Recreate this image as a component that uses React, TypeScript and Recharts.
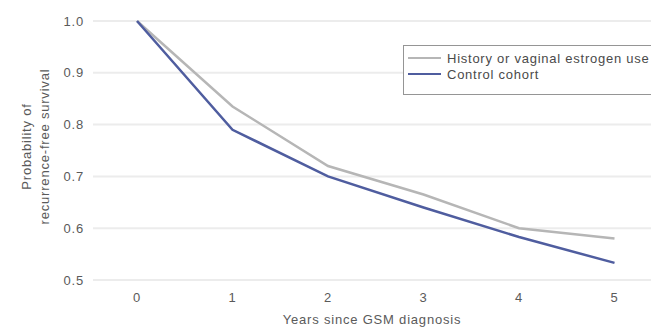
import React from 'react';
import { LineChart, Line, XAxis, YAxis, CartesianGrid, Label } from 'recharts';

const years = [0, 1, 2, 3, 4, 5];
const estrogenSurvival = [1.0, 0.835, 0.72, 0.665, 0.6, 0.58];
const controlSurvival = [1.0, 0.79, 0.7, 0.64, 0.583, 0.533];
const yTicks = [0.5, 0.6, 0.7, 0.8, 0.9, 1.0];

const seriesNames = ['History or vaginal estrogen use', 'Control cohort'];
const seriesColors = ['#b6b6b6', '#4f5d9f'];

const data = years.map((year, i) => ({
  year,
  estrogen: estrogenSurvival[i],
  control: controlSurvival[i],
}));

const FONT = '"Liberation Sans", Arial, sans-serif';
const TEXT = '#5a5a5a';
const textStyle = { fontSize: 13, fontFamily: FONT, fill: TEXT, letterSpacing: 0.8 };

// two-line rotated title for the y axis
const YTitle = (props: any) => {
  const { viewBox } = props;
  const cy = viewBox.y + viewBox.height / 2 - 4;
  return (
    <text
      transform={`translate(30.5, ${cy}) rotate(-90)`}
      textAnchor="middle"
      style={textStyle}
    >
      <tspan x={0} dy={0}>Probability of</tspan>
      <tspan x={0} dy={18}>recurrence-free survival</tspan>
    </text>
  );
};

// legend box, overlaid on the plot and running off the right edge
const LegendBox = () => (
  <div
    style={{
      position: 'absolute',
      left: 403,
      top: 45,
      width: 270,
      border: '1px solid #959595',
      background: '#fff',
      padding: '4px 0 12px 4px',
      fontFamily: FONT,
      fontSize: 13,
      letterSpacing: 0.75,
      color: '#4a4a4a',
      whiteSpace: 'nowrap',
    }}
  >
    {seriesNames.map((name, i) => (
      <div key={name} style={{ display: 'flex', alignItems: 'center', height: 16 }}>
        <span
          style={{
            display: 'inline-block',
            width: 33,
            height: i === 0 ? 1.5 : 2.5,
            background: seriesColors[i],
            marginRight: 6,
          }}
        />
        {name}
      </div>
    ))}
  </div>
);

export default function App() {
  return (
    <div
      style={{
        position: 'absolute',
        left: 0,
        top: 0,
        width: 651,
        height: 329,
        overflow: 'hidden',
        background: '#fff',
      }}
    >
      <LineChart
        width={651}
        height={329}
        data={data}
        margin={{ top: 21, right: 0, bottom: 0, left: 0 }}
      >
        <CartesianGrid horizontal vertical={false} stroke="#ececec" strokeWidth={2} />
        <XAxis
          dataKey="year"
          type="number"
          domain={[-0.461, 5.382]}
          ticks={years}
          axisLine={false}
          tickLine={false}
          height={49}
          tickMargin={7}
          tick={textStyle}
        >
          <Label
            value="Years since GSM diagnosis"
            position="insideBottom"
            offset={5}
            style={textStyle}
          />
        </XAxis>
        <YAxis
          type="number"
          domain={[0.5, 1.0]}
          ticks={yTicks}
          width={93}
          axisLine={false}
          tickLine={false}
          tickMargin={3}
          tickFormatter={(v: number) => v.toFixed(1)}
          tick={textStyle}
        >
          <Label content={<YTitle />} />
        </YAxis>
        <Line
          dataKey="estrogen"
          stroke={seriesColors[0]}
          strokeWidth={2.5}
          dot={false}
          isAnimationActive={false}
        />
        <Line
          dataKey="control"
          stroke={seriesColors[1]}
          strokeWidth={2.5}
          dot={false}
          isAnimationActive={false}
        />
      </LineChart>
      <LegendBox />
    </div>
  );
}
